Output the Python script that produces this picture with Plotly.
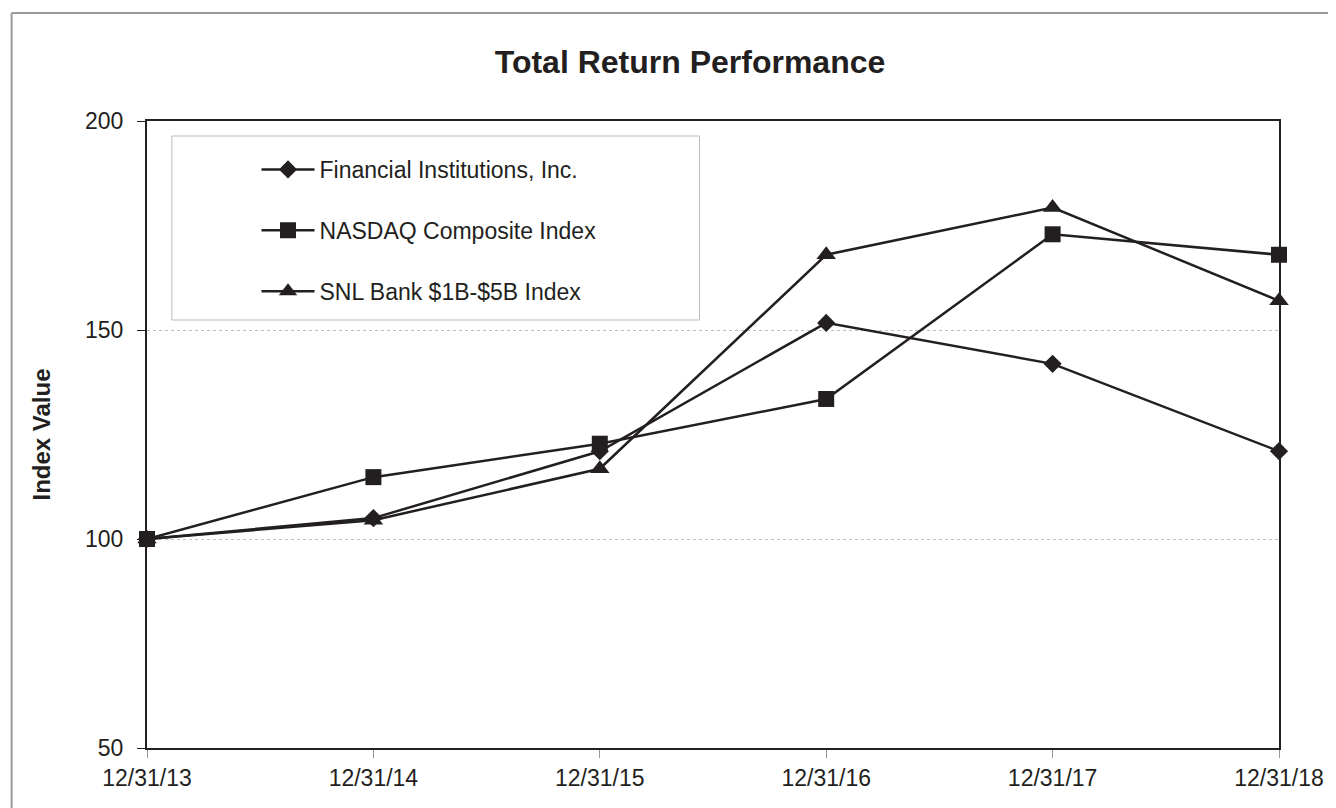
import plotly.graph_objects as go

dates = ["12/31/13", "12/31/14", "12/31/15", "12/31/16", "12/31/17", "12/31/18"]
fi_values = [100, 105.0, 121.0, 151.7, 141.9, 121.0]
nasdaq_values = [100, 114.8, 122.8, 133.5, 172.9, 168.0]
snl_values = [100, 104.5, 116.8, 168.0, 179.3, 157.0]
y_ticks = [50, 100, 150, 200]

INK = "#231f20"
FONT = "Arial, Liberation Sans, sans-serif"

OFF = 8  # page body margin
W, H = 1336 - OFF, 808 - OFF
ML, MT = 147 - OFF, 121 - OFF
MR = W - (1284 - OFF)
MB = H - (748 - OFF)
PW = W - ML - MR
PH = H - MT - MB

def px_x(p):
    return (p - OFF - ML) / PW

def px_y(p):
    return (H - MB - (p - OFF)) / PH

fig = go.Figure()
series = [
    ("Financial Institutions, Inc.", fi_values, "diamond", 14),
    ("NASDAQ Composite Index", nasdaq_values, "square", 16),
    ("SNL Bank $1B-$5B Index", snl_values, "triangle-up", 17),
]
for i, (name, vals, sym, sz) in enumerate(series):
    fig.add_trace(go.Scatter(
        x=dates, y=vals, name=name, mode="lines+markers",
        line=dict(color=INK, width=2.5),
        marker=dict(symbol=sym, size=sz, color=INK),
        cliponaxis=False, legendgroup=f"g{i}",
    ))

shapes = [
    dict(type="rect", xref="paper", yref="paper",
         x0=px_x(172), x1=px_x(702), y0=px_y(320), y1=px_y(136),
         line=dict(color="#bbbbbb", width=1), fillcolor="rgba(0,0,0,0)", layer="below"),
    dict(type="line", xref="paper", yref="paper",
         x0=px_x(11), x1=px_x(1345), y0=px_y(13), y1=px_y(13),
         line=dict(color="#9a9a9a", width=2)),
    dict(type="line", xref="paper", yref="paper",
         x0=px_x(11), x1=px_x(11), y0=px_y(13), y1=px_y(815),
         line=dict(color="#9a9a9a", width=2)),
]

fig.update_layout(
    width=W, height=H,
    margin=dict(l=ML, r=MR, t=MT, b=MB),
    paper_bgcolor="white", plot_bgcolor="white",
    font=dict(family=FONT, color=INK, size=23),
    title=dict(text="<b>Total Return Performance</b>", x=(690 - OFF) / W, xref="container",
               xanchor="center", y=1 - (62 - OFF) / H, yanchor="middle",
               font=dict(size=32, color=INK, family=FONT)),
    showlegend=True,
    legend=dict(x=px_x(257), y=px_y(148), xanchor="left", yanchor="top",
                bgcolor="rgba(0,0,0,0)", borderwidth=0, tracegroupgap=28,
                itemwidth=53,
                font=dict(size=23, color=INK, family=FONT)),
    shapes=shapes,
    xaxis=dict(type="category", range=[0, 5], showgrid=False, zeroline=False,
               showline=True, linecolor=INK, linewidth=2, mirror=True,
               ticks="outside", ticklen=8, tickcolor="#999999", tickwidth=1,
               tickfont=dict(size=23, color=INK, family=FONT)),
    yaxis=dict(range=[50, 200], tickvals=y_ticks, showgrid=True,
               gridcolor="#c0c0c0", griddash="dot", gridwidth=1, zeroline=False,
               showline=True, linecolor=INK, linewidth=2, mirror=True,
               ticks="outside", ticklen=8, tickcolor=INK, tickwidth=1,
               ticklabelstandoff=9,
               tickfont=dict(size=23, color=INK, family=FONT),
               title=dict(text="<b>Index Value</b>", standoff=28,
                          font=dict(size=24, color=INK, family=FONT))),
)

fig.write_html("out.html")
